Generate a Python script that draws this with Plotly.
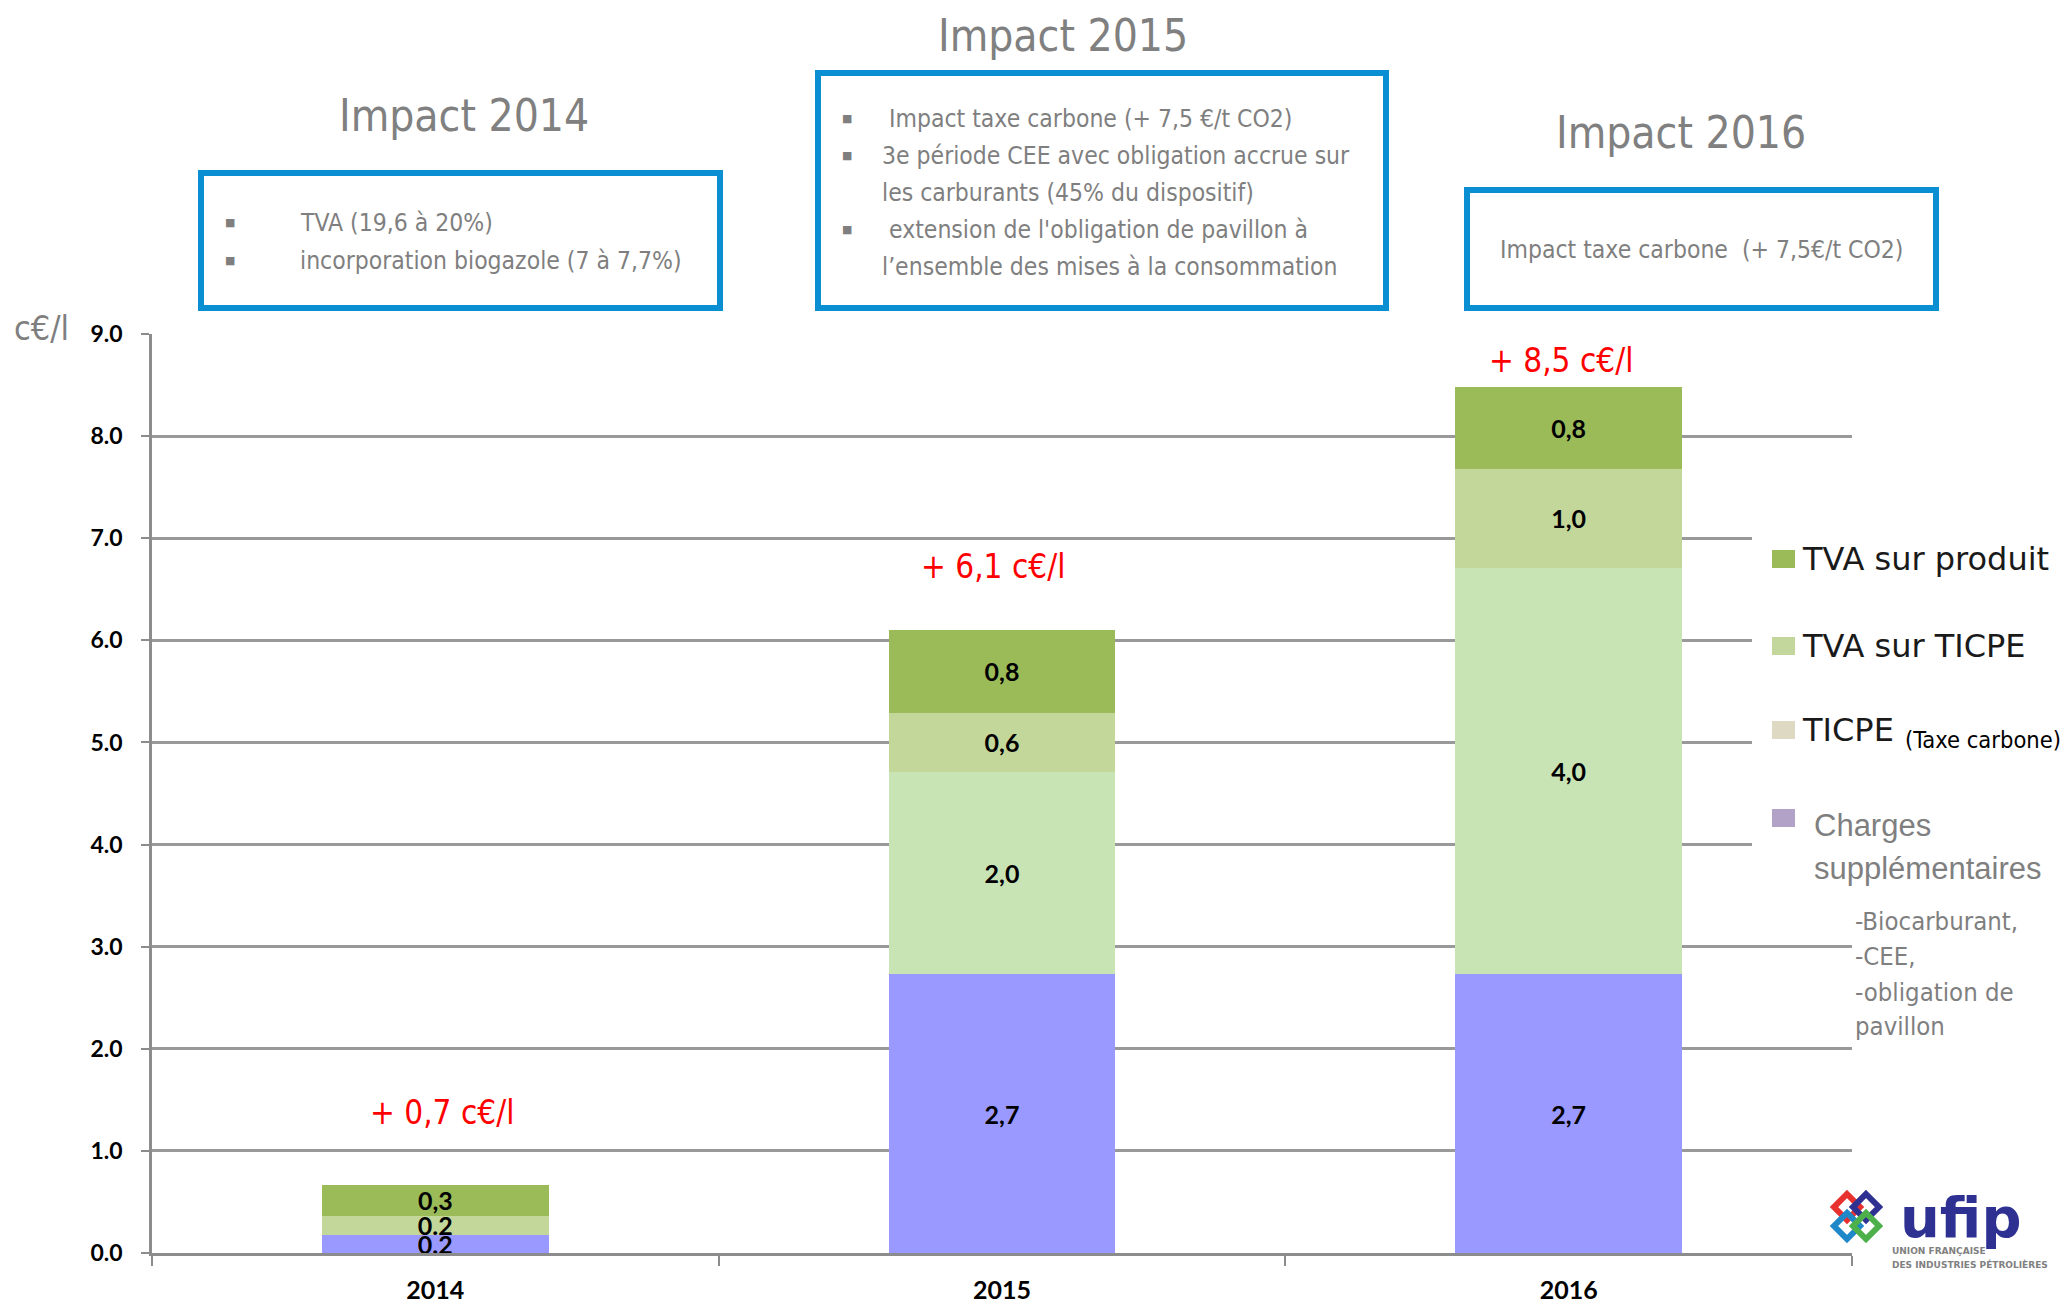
import plotly.graph_objects as go

# ---------------- data ----------------
years = ["2014", "2015", "2016"]
charges = [0.18, 2.73, 2.73]          # Charges supplémentaires
ticpe = [0.0, 1.98, 3.98]             # TICPE (Taxe carbone)
tva_ticpe = [0.18, 0.58, 0.97]        # TVA sur TICPE
tva_produit = [0.31, 0.81, 0.80]      # TVA sur produit
charges_lbl = ["0.2", "2,7", "2,7"]
ticpe_lbl = ["", "2,0", "4,0"]
tva_ticpe_lbl = ["0.2", "0,6", "1,0"]
tva_produit_lbl = ["0,3", "0,8", "0,8"]
totals_lbl = ["+ 0,7 c€/l", "+ 6,1 c€/l", "+ 8,5 c€/l"]
y_ticks = [0, 1, 2, 3, 4, 5, 6, 7, 8, 9]

# ---------------- layout helpers ----------------
# page is offset by the default 8px body margin
OFF = 8
W, H = 2071 - OFF, 1307 - OFF
PL, PR, PT, PB = 152, 1852, 334, 1253   # plot area in page pixels


def px(x):
    return (x - PL) / (PR - PL)


def py(y):
    return (PB - y) / (PB - PT)


NARROW = "Liberation Sans Narrow, Arial Narrow, DejaVu Sans Condensed, sans-serif"
GRAY = "#7f7f7f"
BLUE = "#0B8FD3"

fig = go.Figure()

bar_font = dict(family="Lato, Carlito, sans-serif", size=25, color="black", weight="bold")
series = [
    (charges, charges_lbl, "#9999FF"),
    (ticpe, ticpe_lbl, "#C8E3B4"),
    (tva_ticpe, tva_ticpe_lbl, "#C4D79B"),
    (tva_produit, tva_produit_lbl, "#9BBB59"),
]
for vals, lbls, col in series:
    fig.add_trace(go.Bar(
        x=years, y=vals, text=lbls, marker=dict(color=col, line=dict(width=0)),
        textposition="inside", insidetextanchor="middle", constraintext="none",
        textfont=bar_font, showlegend=False, hoverinfo="skip",
    ))

annotations = []
shapes = []

# total labels in red (x given as category index)
total_y = [1.38, 6.72, 8.74]
total_shift = [7, -9, -8]
for i, (lbl, yy, sh) in enumerate(zip(totals_lbl, total_y, total_shift)):
    annotations.append(dict(x=i, y=yy, xref="x", yref="y", text=lbl, showarrow=False,
                            xshift=sh, font=dict(family=NARROW, size=33, color="#FF0000")))

# titles
for txt, x, y in [("Impact 2014", 464, 116), ("Impact 2015", 1063, 36), ("Impact 2016", 1681, 133)]:
    annotations.append(dict(x=px(x), y=py(y), xref="paper", yref="paper", text=txt,
                            showarrow=False, xanchor="center", yanchor="middle",
                            font=dict(family=NARROW, size=44, color="#808080")))

# blue boxes
for x0, y0, x1, y1 in [(201, 173, 720, 308), (818, 73, 1386, 308), (1467, 190, 1936, 308)]:
    shapes.append(dict(type="rect", xref="paper", yref="paper", x0=px(x0), x1=px(x1),
                       y0=py(y0), y1=py(y1), line=dict(color=BLUE, width=6),
                       fillcolor="rgba(0,0,0,0)", layer="above"))

box_font = dict(family=NARROW, size=24.5, color=GRAY)
bullet_font = dict(family="DejaVu Sans", size=11, color=GRAY)
box_lines = [
    (230, 298, 223, "TVA (19,6 à 20%)", True),
    (230, 298, 260, "incorporation biogazole (7 à 7,7%)", True),
    (847, 887, 118, "Impact taxe carbone (+ 7,5 €/t CO2)", True),
    (847, 880, 155, "3e période CEE avec obligation accrue sur", True),
    (847, 880, 192, "les carburants (45% du dispositif)", False),
    (847, 887, 230, "extension de l'obligation de pavillon à", True),
    (847, 880, 267, "l’ensemble des mises à la consommation", False),
]
for bx, tx, y, txt, bullet in box_lines:
    if bullet:
        annotations.append(dict(x=px(bx), y=py(y), xref="paper", yref="paper", text="■",
                                showarrow=False, xanchor="center", yanchor="middle",
                                font=bullet_font))
    annotations.append(dict(x=px(tx), y=py(y), xref="paper", yref="paper", text=txt,
                            showarrow=False, xanchor="left", yanchor="middle", font=box_font))
annotations.append(dict(x=px(1701), y=py(250), xref="paper", yref="paper",
                        text="Impact taxe carbone  (+ 7,5€/t CO2)", showarrow=False,
                        xanchor="center", yanchor="middle", font=box_font))

# unit label
annotations.append(dict(x=px(42), y=py(328), xref="paper", yref="paper", text="c€/l",
                        showarrow=False, xanchor="center", yanchor="middle",
                        font=dict(family=NARROW, size=34, color=GRAY)))

# legend (custom)
shapes.append(dict(type="rect", xref="paper", yref="paper", x0=px(1752), x1=px(2075),
                   y0=py(525), y1=py(900), line=dict(width=0), fillcolor="white", layer="above"))
leg_font = dict(family="DejaVu Sans, Verdana, sans-serif", size=32, color="#1a1a1a")
for col, ycen, txt in [("#9BBB59", 559, "TVA sur produit"), ("#C3D69B", 646, "TVA sur TICPE"),
                       ("#DDD9C3", 730, "TICPE")]:
    shapes.append(dict(type="rect", xref="paper", yref="paper", x0=px(1772), x1=px(1795),
                       y0=py(ycen - 9), y1=py(ycen + 9), line=dict(width=0), fillcolor=col,
                       layer="above"))
    annotations.append(dict(x=px(1800), y=py(ycen), xref="paper", yref="paper", text=txt,
                            showarrow=False, xanchor="left", yanchor="middle", font=leg_font))
annotations.append(dict(x=px(1903), y=py(740), xref="paper", yref="paper", text="(Taxe carbone)",
                        showarrow=False, xanchor="left", yanchor="middle",
                        font=dict(family=NARROW, size=23.5, color="black")))
shapes.append(dict(type="rect", xref="paper", yref="paper", x0=px(1772), x1=px(1795),
                   y0=py(827), y1=py(809), line=dict(width=0), fillcolor="#B3A2C7", layer="above"))
for txt, y in [("Charges", 825), ("supplémentaires", 868)]:
    annotations.append(dict(x=px(1812), y=py(y), xref="paper", yref="paper", text=txt,
                            showarrow=False, xanchor="left", yanchor="middle",
                            font=dict(family="Liberation Sans, Arial, sans-serif", size=31,
                                      color=GRAY)))
for txt, y in [("-Biocarburant,", 921), ("-CEE,", 956), ("-obligation de", 992), ("pavillon", 1026)]:
    annotations.append(dict(x=px(1853), y=py(y), xref="paper", yref="paper", text=txt,
                            showarrow=False, xanchor="left", yanchor="middle",
                            font=dict(family=NARROW, size=25.5, color=GRAY)))

# ufip logo (approximation): four interlocked diamonds


def diamond(cx, cy, r):
    pts = [(cx, cy - r), (cx + r, cy), (cx, cy + r), (cx - r, cy)]
    return "M " + " L ".join(f"{px(a):.5f},{py(b):.5f}" for a, b in pts) + " Z"


for col, cx, cy in [("#E8312F", 1847, 1207), ("#2E3192", 1866, 1207),
                    ("#1E88C8", 1847, 1226), ("#4DB04A", 1866, 1226)]:
    shapes.append(dict(type="path", xref="paper", yref="paper", path=diamond(cx, cy, 13),
                       line=dict(color=col, width=6), fillcolor="rgba(0,0,0,0)", layer="above"))
annotations.append(dict(x=px(1960), y=py(1217), xref="paper", yref="paper", text="<b>ufip</b>",
                        showarrow=False, xanchor="center", yanchor="middle",
                        font=dict(family="DejaVu Sans", size=56, color="#2E3192")))
for txt, y in [("UNION FRANÇAISE", 1251), ("DES INDUSTRIES PÉTROLIÈRES", 1264)]:
    annotations.append(dict(x=px(1890), y=py(y), xref="paper", yref="paper", text=f"<b>{txt}</b>",
                            showarrow=False, xanchor="left", yanchor="middle",
                            font=dict(family="DejaVu Sans", size=9, color="#808080")))

fig.update_layout(
    width=W, height=H, barmode="stack", bargap=0.6,
    margin=dict(l=PL - OFF, r=W - (PR - OFF), t=PT - OFF, b=H - (PB - OFF), pad=0,
                autoexpand=False),
    plot_bgcolor="white", paper_bgcolor="white",
    annotations=annotations, shapes=shapes, showlegend=False,
    xaxis=dict(type="category", range=[-0.5, 2.5], showgrid=False, showline=True,
               linecolor="#8c8c8c", linewidth=3,
               ticks="outside", ticklen=10, tickwidth=2, tickcolor="#8c8c8c",
               tickson="boundaries", ticklabelstandoff=13, automargin=False,
               tickfont=dict(family="Lato, sans-serif", size=25, color="black", weight="bold")),
    yaxis=dict(range=[0, 9], tickvals=y_ticks, tickformat=".1f", showgrid=True,
               gridcolor="#999999", gridwidth=2.5, zeroline=False, showline=True,
               linecolor="#8c8c8c", linewidth=2.5, ticks="outside", ticklen=8, tickwidth=2,
               tickcolor="#8c8c8c", ticklabelstandoff=14, automargin=False,
               tickfont=dict(family="Lato, sans-serif", size=23, color="black", weight="bold")),
)

fig.write_html("out.html")
